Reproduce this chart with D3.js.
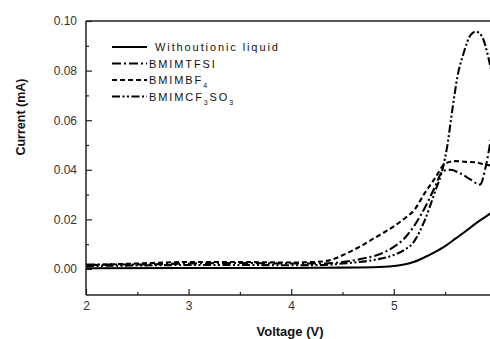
<!DOCTYPE html>
<html><head><meta charset="utf-8">
<script src="https://cdn.jsdelivr.net/npm/d3@7"></script>
<style>body{margin:0;background:#fff}svg{display:block}</style>
</head><body>
<svg id="c" width="490" height="339"></svg>
<script>
// ---- data ----
const xTicks = [2, 3, 4, 5];
const xMinorTicks = [2.5, 3.5, 4.5, 5.5];
const yTicks = [0.00, 0.02, 0.04, 0.06, 0.08, 0.10];
const yMinorTicks = [0.01, 0.03, 0.05, 0.07, 0.09];
const seriesNames = ["Withoutionic liquid", "BMIMTFSI", "BMIMBF4", "BMIMCF3SO3"];

const withoutV = [2.0, 3.0, 4.0, 4.35, 4.8, 5.0, 5.1, 5.2, 5.3, 5.4, 5.5, 5.6, 5.7, 5.8, 5.9, 6.0];
const withoutI = [0.0003, 0.0004, 0.0004, 0.0005, 0.0007, 0.0012, 0.0018, 0.0029, 0.0047, 0.0068, 0.0092, 0.0122, 0.0152, 0.0184, 0.0212, 0.024];

const tfsiV = [2.0, 2.5, 3.0, 3.5, 4.0, 4.3, 4.5, 4.7, 4.9, 5.0, 5.1, 5.2, 5.3, 5.4, 5.48, 5.55, 5.65, 5.75, 5.84, 5.9, 5.95, 6.0];
const tfsiI = [0.0018, 0.0018, 0.0022, 0.0024, 0.0022, 0.0022, 0.0028, 0.0042, 0.0066, 0.0089, 0.0122, 0.0175, 0.0245, 0.0330, 0.0395, 0.0400, 0.0385, 0.0360, 0.0340, 0.0420, 0.0530, 0.0620];

const bf4V = [2.0, 2.5, 3.0, 3.5, 4.0, 4.3, 4.4, 4.5, 4.6, 4.7, 4.8, 4.9, 5.0, 5.1, 5.2, 5.3, 5.4, 5.5, 5.6, 5.7, 5.8, 5.9, 6.0];
const bf4I = [0.0015, 0.0022, 0.0028, 0.0028, 0.0026, 0.0030, 0.0038, 0.0055, 0.0075, 0.0097, 0.0122, 0.0146, 0.0172, 0.0202, 0.0238, 0.0305, 0.0365, 0.0425, 0.0435, 0.0432, 0.0430, 0.0420, 0.0415];

const cfV = [2.0, 2.5, 3.0, 3.5, 4.0, 4.3, 4.5, 4.8, 5.0, 5.1, 5.2, 5.3, 5.4, 5.48, 5.52, 5.57, 5.62, 5.68, 5.75, 5.8, 5.86, 5.92, 5.96, 6.0];
const cfI = [0.0012, 0.0014, 0.0016, 0.0016, 0.0015, 0.0016, 0.0022, 0.0036, 0.0056, 0.0076, 0.0112, 0.0195, 0.0310, 0.0410, 0.0493, 0.0640, 0.0775, 0.0870, 0.0944, 0.0957, 0.0937, 0.0856, 0.0780, 0.0700];

// ---- layout ----
const svg = d3.select("#c");
const mLeft = 86, mTop = 21, mBottom = 295;
const x = d3.scaleLinear().domain([2, 6]).range([mLeft, mLeft + 102.6 * 4]);
const y = d3.scaleLinear().domain([-0.0105, 0.10]).range([mBottom, mTop]);

const series = [
  {name: seriesNames[0], v: withoutV, i: withoutI, dash: null},
  {name: seriesNames[1], v: tfsiV, i: tfsiI, dash: "9,3,2,3"},
  {name: seriesNames[2], v: bf4V, i: bf4I, dash: "5,3"},
  {name: seriesNames[3], v: cfV, i: cfI, dash: "8,2.5,2,2.5,2,2.5"}
];

svg.append("clipPath").attr("id", "clip").append("rect")
  .attr("x", mLeft).attr("y", mTop).attr("width", 490 - mLeft).attr("height", mBottom - mTop);

const line = d3.line().x(d => x(d[0])).y(d => y(d[1])).curve(d3.curveMonotoneX);
const g = svg.append("g").attr("clip-path", "url(#clip)");
series.forEach(s => {
  g.append("path")
    .attr("d", line(s.v.map((v, k) => [v, s.i[k]])))
    .attr("fill", "none").attr("stroke", "#000").attr("stroke-width", 2.1)
    .attr("stroke-dasharray", s.dash);
});

// ---- axes ----
const axCol = "#222";
svg.append("g").attr("transform", `translate(0,${mBottom})`)
  .call(d3.axisBottom(x).tickValues(xTicks).tickSize(-6).tickPadding(6).tickFormat(d3.format("d")));
svg.append("g").attr("transform", `translate(0,${mBottom})`)
  .call(d3.axisBottom(x).tickValues(xMinorTicks).tickSize(-3).tickFormat(""));
svg.append("g").attr("transform", `translate(${mLeft},0)`)
  .call(d3.axisLeft(y).tickValues(yTicks).tickSize(-6).tickPadding(9).tickFormat(d3.format(".2f")));
svg.append("g").attr("transform", `translate(${mLeft},0)`)
  .call(d3.axisLeft(y).tickValues(yMinorTicks).tickSize(-3).tickFormat(""));
svg.selectAll(".domain").remove();
svg.selectAll(".tick line").attr("stroke", axCol).attr("stroke-width", 1.2);
svg.selectAll(".tick text").attr("fill", "#333").style("font-family", "Liberation Sans, Arial, sans-serif").style("font-size", "12px");

// frame
svg.append("line").attr("x1", mLeft).attr("x2", 490).attr("y1", mBottom).attr("y2", mBottom).attr("stroke", axCol).attr("stroke-width", 1.5);
svg.append("line").attr("x1", mLeft).attr("x2", mLeft).attr("y1", mTop).attr("y2", mBottom).attr("stroke", axCol).attr("stroke-width", 1.5);
svg.append("line").attr("x1", mLeft).attr("x2", 490).attr("y1", mTop).attr("y2", mTop).attr("stroke", axCol).attr("stroke-width", 1.5);

// axis titles
svg.append("text").attr("x", 290).attr("y", 336).attr("text-anchor", "middle")
  .style("font-family", "Liberation Sans, Arial, sans-serif").style("font-weight", "bold").style("font-size", "13px")
  .attr("fill", "#111").text("Voltage (V)");
svg.append("text").attr("transform", "translate(25,117) rotate(-90)").attr("text-anchor", "middle")
  .style("font-family", "Liberation Sans, Arial, sans-serif").style("font-weight", "bold").style("font-size", "12.5px")
  .attr("fill", "#111").text("Current (mA)");

// ---- legend ----
const lg = svg.append("g").style("font-family", "Liberation Sans, Arial, sans-serif").style("font-size", "11px").attr("fill", "#111");
const rowY = [47, 63.5, 80, 96.5];
series.forEach((s, k) => {
  lg.append("line").attr("x1", 112).attr("x2", 147).attr("y1", rowY[k]).attr("y2", rowY[k])
    .attr("stroke", "#000").attr("stroke-width", 2).attr("stroke-dasharray", s.dash);
  const t = lg.append("text").attr("x", k === 0 ? 155 : 149).attr("y", rowY[k] + 4).style("letter-spacing", "1.9px");
  const name = s.name;
  if (name === "BMIMBF4") {
    t.append("tspan").text("BMIMBF");
    t.append("tspan").attr("dy", 4).style("font-size", "7px").text("4");
  } else if (name === "BMIMCF3SO3") {
    t.append("tspan").text("BMIMCF");
    t.append("tspan").attr("dy", 4).style("font-size", "7px").text("3");
    t.append("tspan").attr("dy", -4).text("SO");
    t.append("tspan").attr("dy", 4).style("font-size", "7px").text("3");
  } else {
    t.text(name);
  }
});
</script>
</body></html>
